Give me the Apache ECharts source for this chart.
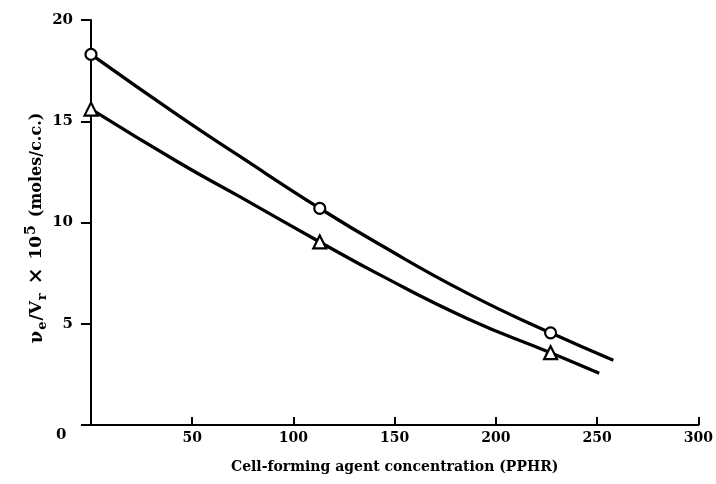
<!DOCTYPE html>
<html>
<head>
<meta charset="utf-8">
<script src="https://cdn.jsdelivr.net/npm/echarts@6/dist/echarts.min.js"></script>
<style>
  html, body { margin: 0; padding: 0; background: #fff; }
  #chart { width: 716px; height: 484px; }
</style>
</head>
<body>
<div id="chart"></div>
<script>
// ---- data ----
const xTickValues = [0, 50, 100, 150, 200, 250, 300];
const yTickValues = [0, 5, 10, 15, 20];

const upperCurveX = [0, 43.6, 73, 113, 142, 186, 227, 258];
const upperCurveY = [18.3, 15.25, 13.3, 10.7, 8.95, 6.5, 4.55, 3.2];
const lowerCurveX = [0, 43.6, 73, 113, 142, 186, 227, 251];
const lowerCurveY = [15.6, 12.95, 11.3, 9.04, 7.45, 5.25, 3.57, 2.56];

const markerX = [0, 113, 227];
const circleY = [18.3, 10.7, 4.55];
const triangleY = [15.6, 9.04, 3.57];

const xAxisTitle = 'Cell-forming agent concentration (PPHR)';
const yAxisTitle = '{g|ν}{sub|e}{a|/V}{sub|r}{x|×}{a|10}{sup|5}{p|(moles/c.c.)}';

// ---- build ----
const zip = (xs, ys) => xs.map((x, i) => [x, ys[i]]);
const FONT = 'DejaVu Serif';

const chart = echarts.init(document.getElementById('chart'), null, { renderer: 'canvas' });
chart.setOption({
  animation: false,
  backgroundColor: '#fff',
  grid: { left: 91, right: 13, top: 20, bottom: 59, containLabel: false },
  xAxis: {
    type: 'value', min: 0, max: 300, interval: 50,
    axisLine: { show: true, onZero: false, lineStyle: { color: '#000', width: 2 } },
    axisTick: { show: true, inside: true, length: 8, lineStyle: { color: '#000', width: 2 } },
    splitLine: { show: false },
    axisLabel: {
      margin: 6, color: '#000', fontFamily: FONT, fontWeight: 'bold', fontSize: 14,
      formatter: v => (v === 0 ? '' : String(v))
    },
    name: xAxisTitle, nameLocation: 'middle', nameGap: 35,
    nameTextStyle: { color: '#000', fontFamily: FONT, fontWeight: 'bold', fontSize: 14 }
  },
  yAxis: {
    type: 'value', min: 0, max: 20, interval: 5,
    axisLine: { show: true, onZero: false, lineStyle: { color: '#000', width: 2 } },
    axisTick: { show: true, inside: false, length: 10, lineStyle: { color: '#000', width: 2 } },
    splitLine: { show: false },
    axisLabel: {
      margin: 18, color: '#000', fontFamily: FONT, fontWeight: 'bold', fontSize: 15,
      formatter: v => (v === 0 ? '' : String(v))
    }
  },
  graphic: [
    {
      type: 'text', left: 56, top: 428,
      style: { text: '0', fill: '#000', font: 'bold 15px "DejaVu Serif"' }
    },
    {
      type: 'text', x: 37, y: 228, rotation: Math.PI / 2,
      style: {
        text: yAxisTitle, fill: '#000', align: 'center', verticalAlign: 'middle',
        font: 'bold 17px "DejaVu Serif"',
        rich: {
          g: { fill: '#000', font: 'bold 18px "DejaVu Serif"' },
          a: { fill: '#000', font: 'bold 17px "DejaVu Serif"' },
          p: { fill: '#000', font: 'bold 16px "DejaVu Serif"', padding: [0, 0, 0, 7] },
          x: { fill: '#000', font: 'bold 20px "DejaVu Serif"', padding: [0, 8, 0, 8] },
          sub: { fill: '#000', font: 'bold 13px "DejaVu Serif"', padding: [11, 1, 0, 1] },
          sup: { fill: '#000', font: 'bold 14px "DejaVu Serif"', padding: [0, 1, 12, 1] }
        }
      }
    }
  ],
  series: [
    {
      type: 'line', data: zip(upperCurveX, upperCurveY), smooth: 0.5,
      showSymbol: false, lineStyle: { color: '#000', width: 3.3 }, z: 2
    },
    {
      type: 'line', data: zip(lowerCurveX, lowerCurveY), smooth: 0.5,
      showSymbol: false, lineStyle: { color: '#000', width: 3.3 }, z: 2
    },
    {
      type: 'scatter', data: zip(markerX, circleY), symbol: 'circle', symbolSize: 11,
      itemStyle: { color: '#fff', borderColor: '#000', borderWidth: 2.2, opacity: 1 }, z: 4
    },
    {
      type: 'scatter', data: zip(markerX, triangleY), symbol: 'triangle', symbolSize: 13,
      itemStyle: { color: '#fff', borderColor: '#000', borderWidth: 2.2, opacity: 1 }, z: 4
    }
  ]
});
</script>
</body>
</html>
